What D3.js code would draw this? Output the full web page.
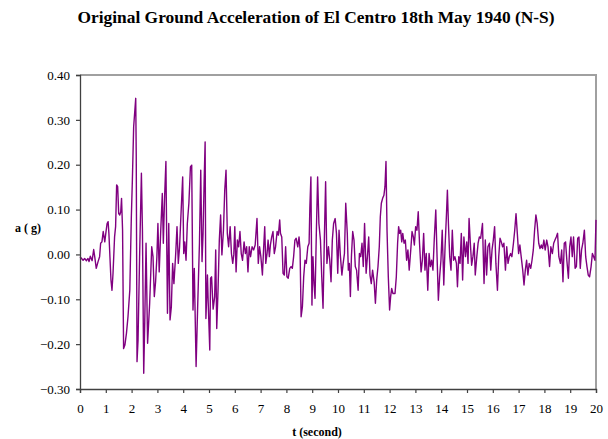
<!DOCTYPE html>
<html>
<head>
<meta charset="utf-8">
<script src="https://cdn.jsdelivr.net/npm/d3@7"></script>
<style>
  body { margin: 0; background: #fff; }
  text { font-family: "Liberation Serif", "Times New Roman", serif; }
</style>
</head>
<body>
<div id="chart-area"></div>
<script>

// Time (s) and ground acceleration (g)
var time = [
    0.00,0.12,0.18,0.25,0.31,0.35,0.40,0.47,0.53,0.57,0.63,0.70,0.76,0.80,0.85,0.90,0.96,1.00,1.05,1.09,
    1.12,1.16,1.20,1.24,1.28,1.34,1.38,1.42,1.46,1.50,1.54,1.58,1.61,1.65,1.69,1.74,1.80,1.86,1.93,1.99,
    2.03,2.08,2.16,2.18,2.21,2.25,2.31,2.38,2.42,2.47,2.51,2.56,2.62,2.70,2.78,2.83,2.88,2.93,2.98,3.02,
    3.07,3.13,3.19,3.23,3.28,3.33,3.39,3.44,3.49,3.54,3.59,3.64,3.71,3.76,3.81,3.86,3.91,3.98,4.02,4.06,
    4.11,4.16,4.22,4.28,4.33,4.38,4.43,4.50,4.56,4.63,4.68,4.73,4.77,4.81,4.85,4.88,4.94,4.97,5.03,5.06,
    5.10,5.16,5.22,5.26,5.30,5.35,5.40,5.45,5.50,5.56,5.61,5.66,5.71,5.76,5.82,5.87,5.92,5.96,6.00,6.05,
    6.10,6.15,6.20,6.25,6.30,6.36,6.41,6.46,6.51,6.56,6.61,6.67,6.73,6.79,6.86,6.91,6.96,7.01,7.07,7.12,
    7.16,7.20,7.25,7.29,7.34,7.38,7.43,7.48,7.53,7.58,7.64,7.69,7.74,7.77,7.82,7.87,7.92,7.97,8.02,8.07,
    8.13,8.18,8.23,8.28,8.33,8.38,8.44,8.49,8.53,8.57,8.62,8.67,8.72,8.77,8.83,8.88,8.91,8.95,8.99,9.03,
    9.07,9.11,9.16,9.21,9.26,9.32,9.37,9.42,9.47,9.52,9.57,9.63,9.68,9.73,9.78,9.83,9.89,9.94,9.99,10.04,
    10.09,10.15,10.20,10.25,10.30,10.36,10.40,10.44,10.48,10.52,10.57,10.62,10.67,10.72,10.78,10.83,10.88,10.93,10.98,11.03,
    11.09,11.14,11.19,11.24,11.29,11.34,11.40,11.45,11.50,11.55,11.60,11.64,11.68,11.73,11.78,11.82,11.86,11.90,11.95,12.00,
    12.04,12.08,12.13,12.21,12.26,12.31,12.35,12.39,12.43,12.47,12.51,12.56,12.61,12.66,12.71,12.76,12.82,12.87,12.92,12.96,
    13.01,13.06,13.11,13.16,13.22,13.27,13.32,13.37,13.42,13.48,13.53,13.58,13.63,13.68,13.73,13.79,13.84,13.89,13.94,13.99,
    14.04,14.10,14.15,14.20,14.24,14.28,14.33,14.38,14.43,14.48,14.53,14.59,14.63,14.68,14.73,14.78,14.83,14.88,14.94,14.99,
    15.04,15.08,15.13,15.18,15.23,15.28,15.32,15.38,15.43,15.48,15.53,15.60,15.66,15.71,15.76,15.81,15.87,15.92,15.97,16.02,
    16.07,16.12,16.18,16.23,16.28,16.33,16.38,16.43,16.49,16.54,16.59,16.64,16.69,16.74,16.80,16.85,16.90,16.95,17.00,17.05,
    17.10,17.16,17.21,17.26,17.31,17.36,17.41,17.47,17.52,17.57,17.62,17.67,17.72,17.78,17.83,17.88,17.93,17.98,18.03,18.09,
    18.14,18.20,18.25,18.31,18.36,18.41,18.46,18.51,18.56,18.62,18.67,18.72,18.77,18.82,18.87,18.93,18.98,19.03,19.08,19.13,
    19.19,19.24,19.29,19.34,19.39,19.44,19.49,19.55,19.60,19.65,19.70,19.75,19.81,19.86,19.91,19.96,20.00
];

var accel = [
    -0.005,-0.013,-0.009,-0.014,-0.009,-0.016,-0.004,-0.014,0.011,-0.005,-0.031,-0.016,-0.005,0.025,0.028,0.051,0.028,0.047,0.069,0.073,
    0.047,-0.005,-0.057,-0.080,-0.042,0.039,0.062,0.155,0.151,0.091,0.088,0.095,0.125,0.054,-0.210,-0.202,-0.176,-0.139,-0.080,0.084,
    0.166,0.285,0.348,0.218,-0.239,-0.191,-0.005,0.181,0.054,-0.265,-0.150,0.025,-0.198,-0.109,0.017,-0.005,-0.094,-0.061,-0.005,0.069,
    -0.039,0.054,0.136,0.025,0.129,0.207,-0.131,0.069,-0.146,-0.117,-0.020,-0.065,0.002,0.062,-0.020,0.017,0.084,0.173,0.002,0.028,
    -0.013,0.069,0.114,0.195,0.199,-0.124,-0.031,-0.250,-0.117,0.025,0.188,-0.016,0.047,0.158,0.251,-0.143,-0.046,-0.109,-0.213,-0.053,
    -0.050,-0.122,-0.094,0.010,-0.165,-0.080,0.032,0.088,-0.001,0.054,0.143,0.188,0.047,0.017,0.062,0.002,-0.020,-0.001,0.062,-0.039,
    0.032,0.017,0.051,0.002,-0.013,0.028,0.002,0.017,-0.039,0.017,-0.005,0.017,0.010,0.021,0.080,-0.020,0.017,-0.005,-0.046,0.017,
    0.062,-0.020,0.002,0.032,-0.005,0.021,0.039,0.051,0.002,0.017,0.051,0.043,0.077,0.047,0.039,-0.042,-0.046,0.017,-0.050,-0.053,
    -0.031,-0.027,-0.031,-0.005,0.032,0.036,0.017,0.039,0.010,-0.139,-0.117,-0.050,-0.013,-0.020,0.017,0.025,0.106,0.173,-0.113,-0.005,
    -0.065,-0.098,0.047,0.173,0.069,0.032,-0.050,-0.120,0.032,0.162,-0.020,0.017,-0.013,-0.061,0.032,0.069,0.080,0.047,-0.042,0.054,
    -0.001,-0.046,-0.020,0.002,0.114,0.047,-0.035,-0.020,-0.094,-0.005,0.051,0.032,-0.027,-0.035,-0.080,0.002,-0.005,0.025,-0.027,0.069,
    -0.042,-0.005,0.039,-0.046,-0.065,-0.035,-0.061,-0.109,-0.057,-0.027,0.017,0.084,0.114,0.125,0.132,0.151,0.207,0.054,-0.050,-0.124,
    -0.094,-0.076,-0.087,-0.087,-0.050,0.025,0.062,0.047,0.054,0.028,0.047,0.025,0.032,-0.013,0.010,-0.035,0.010,0.051,0.039,0.021,
    0.062,0.054,0.095,0.025,-0.039,-0.013,0.047,-0.035,0.002,-0.080,0.002,-0.027,-0.013,-0.035,0.032,0.099,-0.005,-0.102,-0.050,-0.013,
    0.054,-0.068,0.017,0.084,0.143,0.069,-0.005,-0.035,0.054,-0.013,-0.005,-0.020,-0.072,-0.005,-0.020,0.047,-0.057,0.039,-0.005,0.028,
    -0.020,0.080,0.025,-0.024,-0.005,0.025,-0.046,-0.005,0.025,0.039,0.036,0.069,-0.065,0.032,-0.046,0.017,0.025,-0.035,0.010,0.032,
    0.062,-0.020,-0.080,-0.005,0.036,0.028,0.017,0.025,-0.035,0.017,-0.020,-0.005,0.002,-0.005,0.025,0.054,0.091,0.047,0.002,0.021,
    -0.005,-0.035,-0.068,-0.035,-0.013,-0.046,-0.020,-0.031,-0.013,0.010,0.054,0.088,0.069,0.025,0.013,0.021,0.013,0.032,0.010,0.032,
    0.017,-0.027,0.017,0.002,0.025,0.032,0.039,0.047,-0.005,-0.020,0.010,-0.061,0.025,0.028,-0.013,-0.053,0.017,0.039,-0.005,0.039,
    -0.031,-0.027,0.036,0.039,-0.031,0.010,0.025,0.054,-0.005,-0.027,-0.046,-0.050,-0.027,0.002,-0.005,-0.013,0.077
];

var xTicks = d3.range(0, 21, 1);
var yTicks = [-0.3, -0.2, -0.1, 0.0, 0.1, 0.2, 0.3, 0.4];

var width = 608,
    height = 439;

var margin = {left: 80, right: 12, top: 75, bottom: 50};

var svg = d3.select("#chart-area").append("svg")
    .attr("width", width)
    .attr("height", height);

var x = d3.scaleLinear()
    .domain([0, 20])
    .range([margin.left, width - margin.right]);

var y = d3.scaleLinear()
    .domain([-0.3, 0.4])
    .range([height - margin.bottom, margin.top]);

var data = time.map(function(t, i) { return {t: t, a: accel[i]}; });

// Plot area border (top & right in grey)
svg.append("path")
    .attr("d", "M" + x(0) + "," + y(0.4) + "H" + x(20) + "V" + y(-0.3))
    .attr("fill", "none")
    .attr("stroke", "#a0a0a0")
    .attr("stroke-width", 2);

// Signal
var line = d3.line()
    .x(function(d) { return x(d.t); })
    .y(function(d) { return y(d.a); });

svg.append("path")
    .datum(data)
    .attr("fill", "none")
    .attr("stroke", "#800080")
    .attr("stroke-width", 1.4)
    .attr("stroke-linejoin", "round")
    .attr("d", line);

// Axes
var xAxis = d3.axisBottom(x)
    .tickValues(xTicks)
    .tickSize(4)
    .tickPadding(11)
    .tickFormat(d3.format("d"));

var yAxis = d3.axisLeft(y)
    .tickValues(yTicks)
    .tickSize(4)
    .tickPadding(6)
    .tickFormat(d3.format(".2f"));

var gx = svg.append("g")
    .attr("transform", "translate(0," + y(-0.3) + ")")
    .call(xAxis);

var gy = svg.append("g")
    .attr("transform", "translate(" + x(0) + ",0)")
    .call(yAxis);

[gx, gy].forEach(function(g) {
    g.attr("font-family", null);
    g.selectAll("path.domain").attr("stroke", "#404040").attr("stroke-width", 1.3);
    g.selectAll(".tick line").attr("stroke", "#404040").attr("stroke-width", 1.2);
    g.selectAll("text")
        .style("font-family", '"Liberation Serif", serif')
        .style("font-size", "13px")
        .attr("fill", "#000");
});

// Title and labels
svg.append("text")
    .attr("x", 316)
    .attr("y", 23)
    .attr("text-anchor", "middle")
    .attr("font-size", 17.4)
    .attr("font-weight", "bold")
    .text("Original Ground Acceleration of El Centro 18th May 1940 (N-S)");

svg.append("text")
    .attr("x", 28)
    .attr("y", 232)
    .attr("text-anchor", "middle")
    .attr("font-size", 12)
    .attr("font-weight", "bold")
    .text("a ( g)");

svg.append("text")
    .attr("x", 317)
    .attr("y", 436)
    .attr("text-anchor", "middle")
    .attr("font-size", 12)
    .attr("font-weight", "bold")
    .text("t (second)");

</script>
</body>
</html>
